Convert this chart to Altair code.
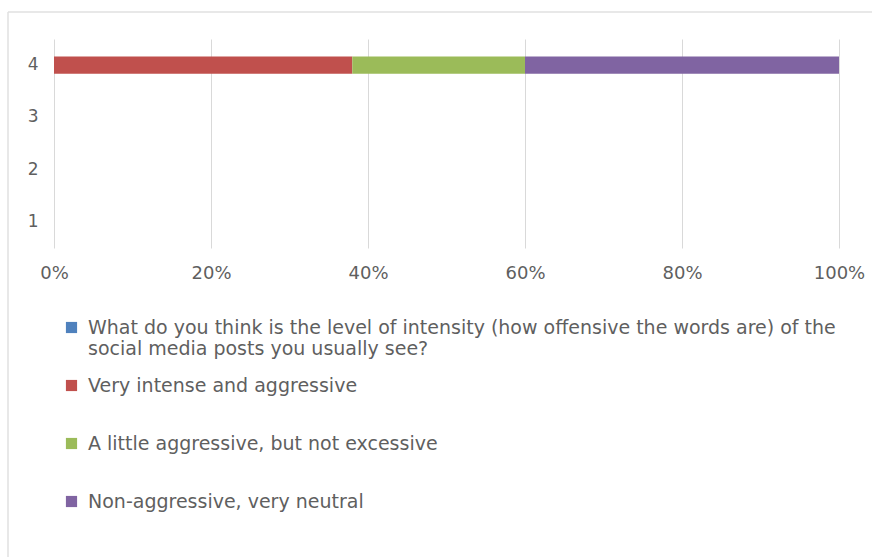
import altair as alt
import pandas as pd

categories = ["4", "3", "2", "1"]
series = [
    "What do you think is the level of intensity (how offensive the words are) of the social media posts you usually see?",
    "Very intense and aggressive",
    "A little aggressive, but not excessive",
    "Non-aggressive, very neutral",
]
colors = ["#4f81bd", "#c0504d", "#9bbb59", "#8064a2"]
# shares of row "4" (fractions of 100%)
row4_values = [0.0, 0.38, 0.22, 0.40]

df = pd.DataFrame({
    "cat": ["4"] * len(series),
    "series": series,
    "value": row4_values,
    "order": list(range(len(series))),
})
df = df[df["value"] > 0]

first = series[0]
label_expr = (
    "datum.label == '" + first + "' ? "
    "['What do you think is the level of intensity (how offensive the words are) of the', "
    "'social media posts you usually see?'] : [datum.label, ' ']"
)

FONT = "DejaVu Sans"
GREY = "#5f5f5f"

bars = alt.Chart(df).mark_bar().encode(
    x=alt.X("value:Q", stack="zero",
            scale=alt.Scale(domain=[0, 1], nice=False),
            axis=alt.Axis(format="%", values=[0, 0.2, 0.4, 0.6, 0.8, 1.0],
                          title=None, domain=False, ticks=False, labelFlush=False,
                          grid=True, gridColor="#d9d9d9", labelPadding=16,
                          labelFontSize=18, labelColor=GREY,
                          labelFont=FONT)),
    y=alt.Y("cat:O", sort=categories,
            scale=alt.Scale(domain=categories, paddingInner=0.67, paddingOuter=0.335),
            axis=alt.Axis(title=None, domain=False, ticks=False, grid=False,
                          labelPadding=16, labelFontSize=17, labelColor=GREY,
                          labelFont=FONT)),
    color=alt.Color("series:N",
                    scale=alt.Scale(domain=series, range=colors),
                    legend=alt.Legend(title=None, orient="none", legendX=8, legendY=279,
                                      direction="vertical", symbolType="square",
                                      symbolSize=125, symbolStrokeWidth=0,
                                      labelFontSize=19, labelColor=GREY,
                                      labelFont=FONT, labelLimit=900,
                                      labelOffset=7, rowPadding=17,
                                      labelExpr=label_expr)),
    order=alt.Order("order:Q"),
)

border = alt.Chart(pd.DataFrame({"a": [0]})).mark_rule(color="#e0e0e0", strokeWidth=1.5).encode(
    x=alt.value(-46), x2=alt.value(830), y=alt.value(-27), y2=alt.value(-27)
)
border_left = alt.Chart(pd.DataFrame({"a": [0]})).mark_rule(color="#e0e0e0", strokeWidth=1.5).encode(
    x=alt.value(-46), x2=alt.value(-46), y=alt.value(-27), y2=alt.value(520)
)

chart = alt.layer(border, border_left, bars).properties(
    width=785, height=209,
    autosize=alt.AutoSizeParams(type="none"),
    padding={"left": 54, "top": 39, "right": 33, "bottom": 309},
    background="white",
).configure_view(stroke=None)

chart.save("out.html", embed_options={"renderer": "svg", "actions": False})
